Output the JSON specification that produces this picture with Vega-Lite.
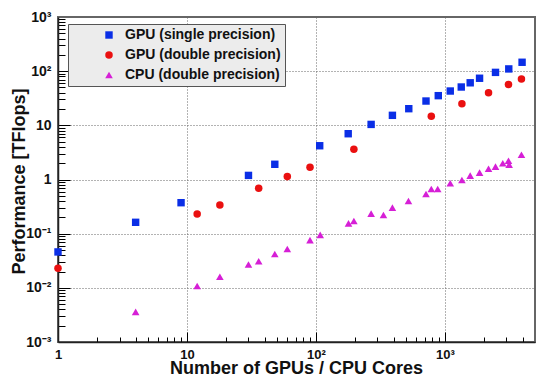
{
  "$schema": "https://vega.github.io/schema/vega-lite/v6.json",
  "width": 477,
  "height": 325,
  "autosize": {"type": "none"},
  "padding": {"left": 58, "top": 17, "right": 2, "bottom": 34},
  "background": "white",
  "config": {"view": {"stroke": "#666666", "strokeWidth": 2}, "font": "Liberation Sans"},
  "data": {"values": [
    {"series": "GPU (single precision)", "n": 1, "p": 0.046},
    {"series": "GPU (single precision)", "n": 4, "p": 0.162},
    {"series": "GPU (single precision)", "n": 9, "p": 0.373},
    {"series": "GPU (single precision)", "n": 30, "p": 1.19},
    {"series": "GPU (single precision)", "n": 48, "p": 1.91},
    {"series": "GPU (single precision)", "n": 107, "p": 4.2},
    {"series": "GPU (single precision)", "n": 178, "p": 7.0},
    {"series": "GPU (single precision)", "n": 268, "p": 10.4},
    {"series": "GPU (single precision)", "n": 392, "p": 15.3},
    {"series": "GPU (single precision)", "n": 525, "p": 20.3},
    {"series": "GPU (single precision)", "n": 714, "p": 28.1},
    {"series": "GPU (single precision)", "n": 889, "p": 35.3},
    {"series": "GPU (single precision)", "n": 1101, "p": 43},
    {"series": "GPU (single precision)", "n": 1340, "p": 51},
    {"series": "GPU (single precision)", "n": 1572, "p": 61},
    {"series": "GPU (single precision)", "n": 1858, "p": 74},
    {"series": "GPU (single precision)", "n": 2470, "p": 95},
    {"series": "GPU (single precision)", "n": 3130, "p": 110},
    {"series": "GPU (single precision)", "n": 3970, "p": 146},
    {"series": "GPU (double precision)", "n": 1, "p": 0.023},
    {"series": "GPU (double precision)", "n": 12, "p": 0.231},
    {"series": "GPU (double precision)", "n": 18, "p": 0.339},
    {"series": "GPU (double precision)", "n": 36, "p": 0.687},
    {"series": "GPU (double precision)", "n": 60, "p": 1.13},
    {"series": "GPU (double precision)", "n": 90, "p": 1.68},
    {"series": "GPU (double precision)", "n": 197, "p": 3.6},
    {"series": "GPU (double precision)", "n": 785, "p": 14.7},
    {"series": "GPU (double precision)", "n": 1356, "p": 25.1},
    {"series": "GPU (double precision)", "n": 2181, "p": 40},
    {"series": "GPU (double precision)", "n": 3114, "p": 57},
    {"series": "GPU (double precision)", "n": 3926, "p": 72},
    {"series": "CPU (double precision)", "n": 4, "p": 0.0036},
    {"series": "CPU (double precision)", "n": 12, "p": 0.0108},
    {"series": "CPU (double precision)", "n": 18, "p": 0.016},
    {"series": "CPU (double precision)", "n": 30, "p": 0.027},
    {"series": "CPU (double precision)", "n": 36, "p": 0.031},
    {"series": "CPU (double precision)", "n": 48, "p": 0.042},
    {"series": "CPU (double precision)", "n": 60, "p": 0.052},
    {"series": "CPU (double precision)", "n": 90, "p": 0.076},
    {"series": "CPU (double precision)", "n": 108, "p": 0.095},
    {"series": "CPU (double precision)", "n": 179, "p": 0.155},
    {"series": "CPU (double precision)", "n": 197, "p": 0.171},
    {"series": "CPU (double precision)", "n": 268, "p": 0.234},
    {"series": "CPU (double precision)", "n": 334, "p": 0.221},
    {"series": "CPU (double precision)", "n": 392, "p": 0.302},
    {"series": "CPU (double precision)", "n": 522, "p": 0.40},
    {"series": "CPU (double precision)", "n": 714, "p": 0.54},
    {"series": "CPU (double precision)", "n": 785, "p": 0.668},
    {"series": "CPU (double precision)", "n": 880, "p": 0.668},
    {"series": "CPU (double precision)", "n": 1101, "p": 0.85},
    {"series": "CPU (double precision)", "n": 1356, "p": 0.98},
    {"series": "CPU (double precision)", "n": 1572, "p": 1.18},
    {"series": "CPU (double precision)", "n": 1858, "p": 1.34},
    {"series": "CPU (double precision)", "n": 2181, "p": 1.58},
    {"series": "CPU (double precision)", "n": 2470, "p": 1.73},
    {"series": "CPU (double precision)", "n": 2813, "p": 1.99},
    {"series": "CPU (double precision)", "n": 3114, "p": 2.22},
    {"series": "CPU (double precision)", "n": 3150, "p": 1.88},
    {"series": "CPU (double precision)", "n": 3926, "p": 2.87}
  ]},
  "resolve": {"axis": {"x": "independent", "y": "independent"}},
  "layer": [
    {
      "mark": {"type": "point", "opacity": 0},
      "encoding": {
        "x": {"field": "n", "type": "quantitative", "scale": {"type": "log", "domain": [1, 5000], "nice": false},
          "axis": {"orient": "bottom", "values": [2,3,4,5,6,7,8,9,20,30,40,50,60,70,80,90,200,300,400,500,600,700,800,900,2000,3000,4000], "labels": false, "domain": false, "grid": false, "title": null, "tickSize": 5, "offset": -5, "tickColor": "#000000", "tickWidth": 1}},
        "y": {"field": "p", "type": "quantitative", "scale": {"type": "log", "domain": [0.001, 1000], "nice": false},
          "axis": {"orient": "left", "values": [0.002,0.003,0.004,0.005,0.006,0.007,0.008,0.009,0.02,0.03,0.04,0.05,0.06,0.07,0.08,0.09,0.2,0.3,0.4,0.5,0.6,0.7,0.8,0.9,2,3,4,5,6,7,8,9,20,30,40,50,60,70,80,90,200,300,400,500,600,700,800,900], "labels": false, "domain": false, "grid": false, "title": null, "tickSize": 7, "offset": -7, "tickColor": "#000000", "tickWidth": 1}}
      }
    },
    {
      "mark": {"type": "point", "opacity": 0},
      "encoding": {
        "x": {"field": "n", "type": "quantitative",
          "axis": {"orient": "bottom", "values": [10,100,1000], "labels": false, "domain": false, "grid": false, "title": null, "tickSize": 10, "offset": -10, "tickColor": "#000000", "tickWidth": 1}},
        "y": {"field": "p", "type": "quantitative",
          "axis": {"orient": "left", "values": [0.01,0.1,1,10,100], "labels": false, "domain": false, "grid": false, "title": null, "tickSize": 12, "offset": -12, "tickColor": "#000000", "tickWidth": 1}}
      }
    },
    {
      "mark": {"type": "point", "filled": true, "opacity": 1},
      "encoding": {
        "x": {
          "field": "n", "type": "quantitative",
          "axis": {
            "orient": "bottom",
            "values": [1, 10, 100, 1000],
            "labelExpr": "datum.value == 1 ? '1' : datum.value == 10 ? '10' : datum.value == 100 ? '10²' : '10³'",
            "labelFlush": false,
            "labelOverlap": false,
            "labelFont": "Liberation Sans",
            "labelFontSize": 13,
            "labelFontWeight": "bold",
            "labelColor": "#111111",
            "labelPadding": 6,
            "ticks": false,
            "tickSize": 0,
            "domainColor": "#222222",
            "domainWidth": 1.5,
            "grid": true,
            "gridColor": "#666666",
            "gridDash": [1, 2],
            "gridWidth": 1,
            "title": "Number of GPUs / CPU Cores",
            "titleFont": "Liberation Sans",
            "titleFontSize": 18,
            "titleFontWeight": "bold",
            "titleColor": "#111111",
            "titleBaseline": "alphabetic",
            "titleAlign": "center",
            "titleX": 238,
            "titleY": 31
          }
        },
        "y": {
          "field": "p", "type": "quantitative",
          "axis": {
            "orient": "left",
            "values": [0.001, 0.01, 0.1, 1, 10, 100, 1000],
            "labelExpr": "datum.value == 0.001 ? '10⁻³' : datum.value == 0.01 ? '10⁻²' : datum.value == 0.1 ? '10⁻¹' : datum.value == 1 ? '1' : datum.value == 10 ? '10' : datum.value == 100 ? '10²' : '10³'",
            "labelFlush": false,
            "labelOverlap": false,
            "labelFont": "Liberation Sans",
            "labelFontSize": 14,
            "labelFontWeight": "bold",
            "labelColor": "#111111",
            "labelPadding": 7,
            "ticks": false,
            "tickSize": 0,
            "domainColor": "#222222",
            "domainWidth": 1.5,
            "grid": true,
            "gridColor": "#666666",
            "gridDash": [1, 2],
            "gridWidth": 1,
            "title": "Performance [TFlops]",
            "titleFont": "Liberation Sans",
            "titleFontSize": 18,
            "titleFontWeight": "bold",
            "titleColor": "#111111",
            "titleAngle": -90,
            "titleBaseline": "alphabetic",
            "titleAlign": "center",
            "titleX": -34,
            "titleY": 164
          }
        },
        "color": {
          "field": "series", "type": "nominal",
          "scale": {"domain": ["GPU (single precision)", "GPU (double precision)", "CPU (double precision)"], "range": ["#0a2ee6", "#ea1010", "#d61fd6"]},
          "legend": {"title": null, "orient": "none", "legendX": 10, "legendY": 7, "fillColor": "#ececec", "strokeColor": "#555555", "padding": 4, "symbolOffset": 30, "labelOffset": 9, "rowPadding": 6, "labelFont": "Liberation Sans", "labelFontSize": 14, "labelFontWeight": "bold", "labelColor": "#111111", "symbolSize": 50, "symbolStrokeWidth": 0, "labelLimit": 400, "labelExpr": "datum.label + '          '"}
        },
        "shape": {
          "field": "series", "type": "nominal",
          "scale": {"domain": ["GPU (single precision)", "GPU (double precision)", "CPU (double precision)"], "range": ["square", "circle", "triangle-up"]},
          "legend": {"title": null, "orient": "none", "legendX": 10, "legendY": 7, "fillColor": "#ececec", "strokeColor": "#555555", "padding": 4, "symbolOffset": 30, "labelOffset": 9, "rowPadding": 6, "labelFont": "Liberation Sans", "labelFontSize": 14, "labelFontWeight": "bold", "labelColor": "#111111", "symbolSize": 50, "symbolStrokeWidth": 0, "labelLimit": 400, "labelExpr": "datum.label + '          '"}
        },
        "size": {
          "field": "series", "type": "nominal",
          "scale": {"domain": ["GPU (single precision)", "GPU (double precision)", "CPU (double precision)"], "range": [55, 58, 75]},
          "legend": null
        }
      }
    }
  ]
}
